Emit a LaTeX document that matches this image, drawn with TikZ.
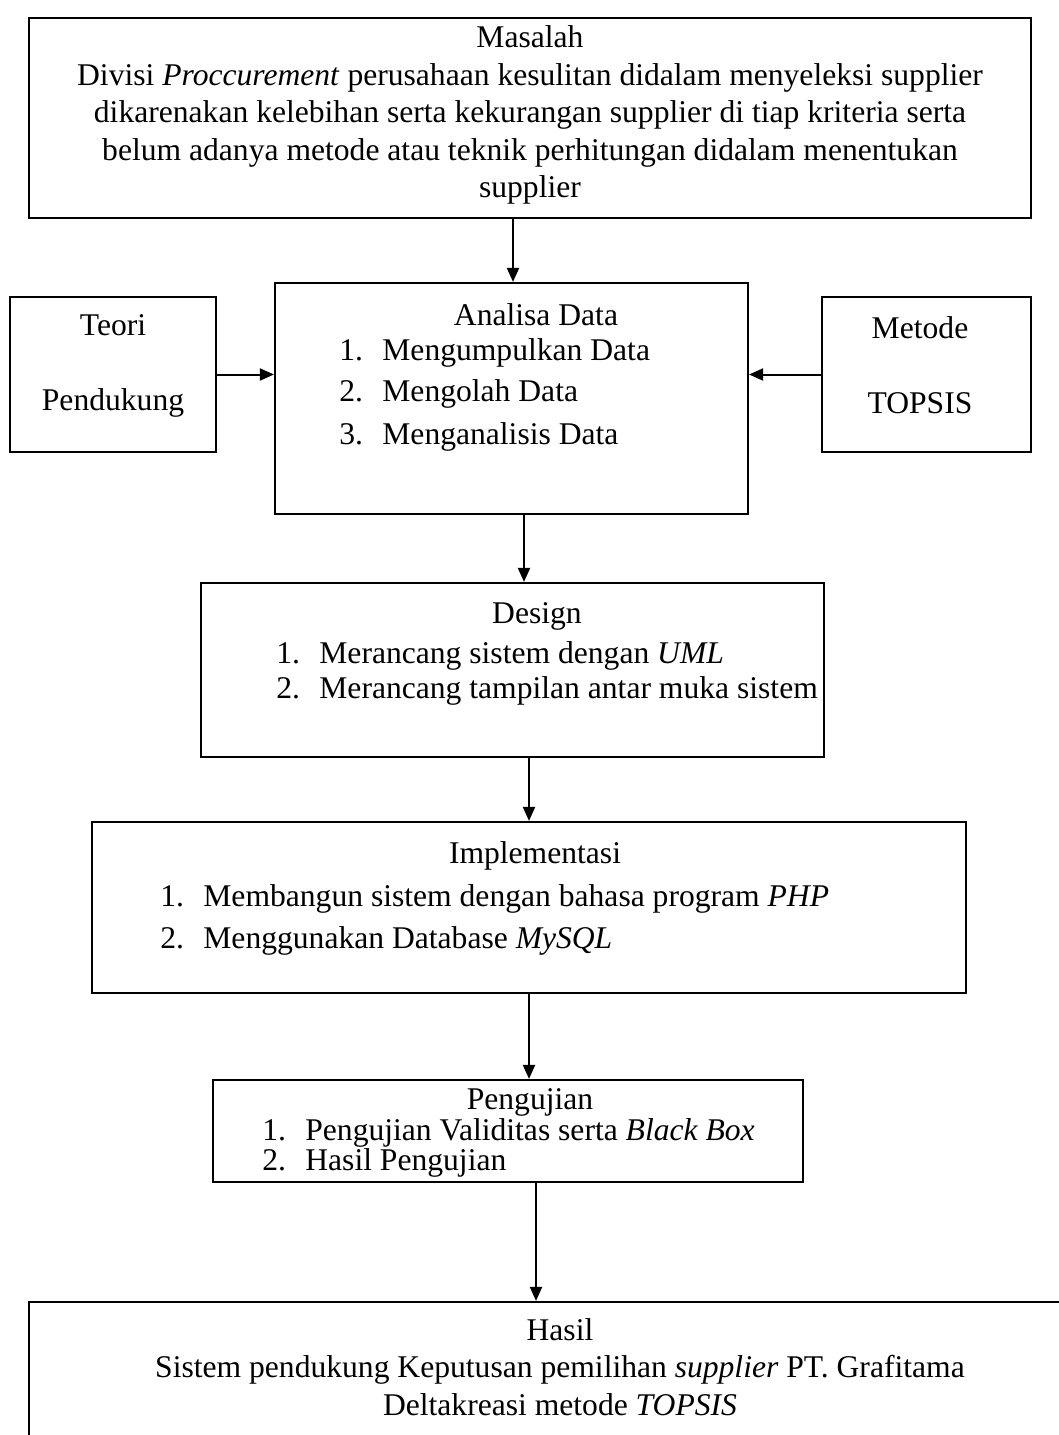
\documentclass[tikz,border=0pt]{standalone}
\usepackage{fontspec}
\setmainfont{Liberation Serif}
\usetikzlibrary{arrows.meta}

\tikzset{
  box/.style={draw, line width=1.1pt, inner sep=0pt},
  txt/.style={font=\fontsize{15.8}{18.75}\selectfont, inner sep=0pt, align=center},
  lst/.style={font=\fontsize{15.8}{18.75}\selectfont, inner sep=0pt, anchor=west},
  arr/.style={-{Triangle[length=7pt,width=6pt]}, line width=1pt},
}
\newcommand{\itm}[2]{\makebox[21.5pt][l]{#1.}#2}

\begin{document}
\begin{tikzpicture}[x=0.5pt,y=-0.5pt]
  \useasboundingbox (0,0) rectangle (1059,1435);
  \clip (0,0) rectangle (1059,1435);
  % boxes
  \node[box, minimum width=501pt, minimum height=100pt] (masalah) at (530,118) {};
  \node[box, minimum width=103pt, minimum height=77.5pt] (teori) at (113,374.5) {};
  \node[box, minimum width=236.5pt, minimum height=115.5pt] (analisa) at (511.5,398.5) {};
  \node[box, minimum width=104.5pt, minimum height=77.5pt] (metode) at (926.5,374.5) {};
  \node[box, minimum width=311.5pt, minimum height=87pt] (design) at (512.5,670) {};
  \node[box, minimum width=437pt, minimum height=85.5pt] (impl) at (529,907.5) {};
  \node[box, minimum width=295pt, minimum height=51pt] (uji) at (508,1131) {};
  \node[box, minimum width=535.5pt, minimum height=84pt] (hasil) at (564.5,1386) {};

  % texts
  \node[txt] (masalah-t) at (530,115) {Masalah\\Divisi \textit{Proccurement} perusahaan kesulitan didalam menyeleksi supplier\\dikarenakan kelebihan serta kekurangan supplier di tiap kriteria serta\\belum adanya metode atau teknik perhitungan didalam menentukan\\supplier};
  \node[txt] (teori-t) at (113,365.5) {Teori\\[18.75pt]Pendukung};
  \node[txt] (metode-t) at (920,365.5) {Metode\\[18.75pt]TOPSIS};
  \node[txt] (analisa-t) at (536,315) {Analisa Data};
  \foreach \n/\t/\y in {1/Mengumpulkan Data/353, 2/Mengolah Data/394, 3/Menganalisis Data/437}
    \node[lst] (analisa-\n) at (339,\y) {\itm{\n}{\t}};
  \node[txt] (design-t) at (537,616) {Design};
  \node[lst] (design-1) at (276,656) {\itm{1}{Merancang sistem dengan \textit{UML}}};
  \node[lst] (design-2) at (276,691) {\itm{2}{Merancang tampilan antar muka sistem}};
  \node[txt] (impl-t) at (535,856) {Implementasi};
  \node[lst] (impl-1) at (160,899) {\itm{1}{Membangun sistem dengan bahasa program \textit{PHP}}};
  \node[lst] (impl-2) at (160,941) {\itm{2}{Menggunakan Database \textit{MySQL}}};
  \node[txt] (uji-t) at (530,1102) {Pengujian};
  \node[lst] (uji-1) at (262,1133) {\itm{1}{Pengujian Validitas serta \textit{Black Box}}};
  \node[lst] (uji-2) at (262,1163) {\itm{2}{Hasil Pengujian}};
  \node[txt] (hasil-t) at (560,1367) {Hasil\\Sistem pendukung Keputusan pemilihan \textit{supplier} PT. Grafitama\\Deltakreasi metode \textit{TOPSIS}};

  % arrows
  \draw[arr] ([xshift=-8.5pt]masalah.south) -- ([xshift=-8.5pt]masalah.south |- analisa.north);
  \draw[arr] (teori.east) -- (analisa.west |- teori.east);
  \draw[arr] (metode.west) -- (analisa.east |- metode.west);
  \draw[arr] ([xshift=6.25pt]analisa.south) -- ([xshift=6.25pt]analisa.south |- design.north);
  \draw[arr] ([xshift=8.25pt]design.south) -- ([xshift=8.25pt]design.south |- impl.north);
  \draw[arr] (impl.south) -- (impl.south |- uji.north);
  \draw[arr] ([xshift=14pt]uji.south) -- ([xshift=14pt]uji.south |- hasil.north);
\end{tikzpicture}
\end{document}
